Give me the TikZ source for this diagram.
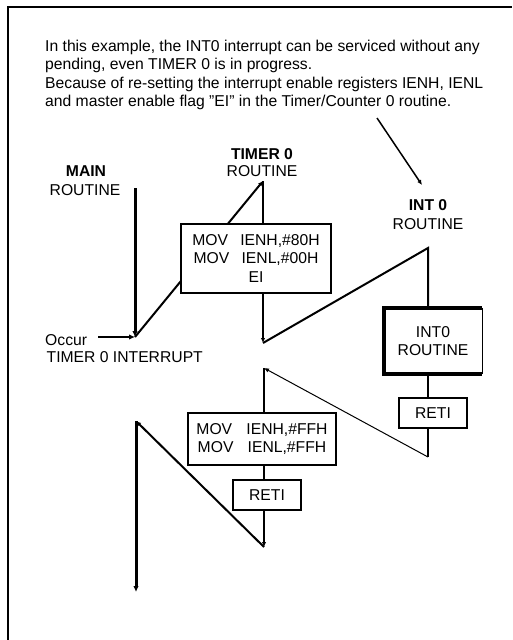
\documentclass[tikz,border=0pt]{standalone}
\usepackage{fontspec}
\setmainfont{Liberation Sans}
\usetikzlibrary{arrows.meta}
\begin{document}
\begin{tikzpicture}[x=1pt,y=-1pt,
  txt/.style={inner sep=0pt,font=\fontsize{15.7}{18}\selectfont},
  bold/.style={txt,font=\fontsize{15.7}{18}\selectfont\bfseries},
  flow/.style={line width=2pt},
  heavy/.style={line width=3pt},
  thinline/.style={line width=1pt},
  tip/.style={-{Latex[length=6pt,width=5.5pt]}},
  smalltip/.style={-{Latex[length=5pt,width=4.5pt]}},
  codebox/.style={draw,line width=2pt,fill=white,inner sep=0pt,align=center,
    font=\fontsize{15.7}{18.3}\selectfont}]
\useasboundingbox (0,0) rectangle (512,640);
% outer frame
\draw[line width=2.5pt] (8,640) -- (8,7) -- (512,7);

% explanatory note
\node[txt,anchor=base west] (n1) at (45,51.7) {In this example, the INT0 interrupt can be serviced without any};
\node[txt,anchor=base west] (n2) at (45,69.5) {pending, even TIMER 0 is in progress.};
\node[txt,anchor=base west] (n3) at (45,88.5) {Because of re-setting the interrupt enable registers IENH, IENL};
\node[txt,anchor=base west] (n4) at (45,106) {and master enable flag \char34 EI\char34\ in the Timer/Counter 0 routine.};
\coordinate (p0) at (377,118);
\coordinate (p1) at (422,185);
\draw[line width=1.5pt,smalltip] (p0) -- (p1);

% routine titles
\node[bold,anchor=base] (mainA) at (86,176.7) {MAIN};
\node[txt,anchor=base] (mainB) at (85,195) {ROUTINE};
\node[bold,anchor=base] (timA) at (262,159.3) {TIMER 0};
\node[txt,anchor=base] (timB) at (262,176.7) {ROUTINE};
\node[bold,anchor=base] (intA) at (428,210) {INT 0};
\node[txt,anchor=base] (intB) at (428,229.3) {ROUTINE};

% interrupt request
\node[txt,anchor=base west] (occ) at (45,345) {Occur};
\node[txt,anchor=base west] (occB) at (46.5,362.7) {TIMER 0 INTERRUPT};

% flow vertices
\coordinate (m0) at (135,188);
\coordinate (m1) at (135,337);
\coordinate (q0) at (98,337);
\coordinate (t0) at (263,181);
\coordinate (t1) at (263,343);
\coordinate (i0) at (428,248);
\coordinate (i1) at (428,457);
\coordinate (r0) at (264,368);
\coordinate (r1) at (264,547);
\coordinate (f0) at (136,421);
\coordinate (f1) at (136,592);

% main routine interrupted by Timer 0
\draw[heavy,tip] (m0) -- (m1);
\draw[flow,tip] (q0) -- (m1);
\draw[flow,smalltip] (m1) -- (t0);
\draw[flow,smalltip] (t0) -- (t1);

% Timer 0 routine, first part
\node[codebox,minimum width=150pt,minimum height=69pt] (tbox) at (256,258.5)
  {\makebox[48pt][l]{MOV}IENH,\#80H\\\makebox[48pt][l]{MOV}IENL,\#00H\\EI};

% INT0 service
\draw[flow] (t1) -- (i0) -- (i0 |- 0,308);
\node[inner sep=0pt,minimum width=98pt,minimum height=66pt,fill=white,align=center,
  font=\fontsize{15.7}{18.7}\selectfont] (ibox) at (433,341) {INT0\\ROUTINE};
\draw[line width=4.5pt,line join=miter] (ibox.north east) -- (ibox.north west) -- (ibox.south west) -- (ibox.south east);
\draw[line width=1.2pt] (ibox.north east) -- (ibox.south east);
\node[codebox,minimum width=68pt,minimum height=30pt] (reti1) at (433,413) {RETI};
\draw[flow] (i0 |- ibox.south) -- (i0 |- reti1.north);
\draw[flow] (i0 |- reti1.south) -- (i1);
\draw[thinline,smalltip] (i1) -- (r0);

% Timer 0 routine, second part
\node[codebox,minimum width=148pt,minimum height=52pt] (tbox2) at (262,439)
  {\makebox[50pt][l]{MOV}IENH,\#FFH\\\makebox[50pt][l]{MOV}IENL,\#FFH};
\node[codebox,minimum width=68pt,minimum height=30pt] (reti2) at (267,495) {RETI};
\draw[flow] (r0) -- (r0 |- tbox2.north);
\draw[flow] (r0 |- tbox2.south) -- (r0 |- reti2.north);
\draw[flow,smalltip] (r0 |- reti2.south) -- (r1);
\draw[flow,smalltip] (r1) -- (f0);
\draw[heavy,tip] (f0) -- (f1);
\end{tikzpicture}
\end{document}
